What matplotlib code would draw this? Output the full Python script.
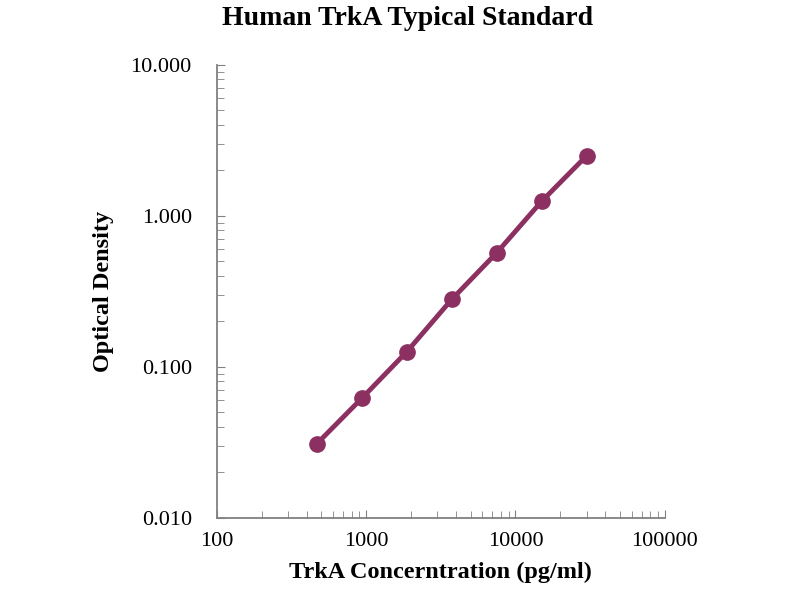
import numpy as np
import matplotlib
matplotlib.use("Agg")
import matplotlib.pyplot as plt
from matplotlib.ticker import FuncFormatter, LogLocator

# standard curve
conc = [468.75, 937.5, 1875, 3750, 7500, 15000, 30000]
od = [0.031, 0.062, 0.126, 0.28, 0.57, 1.25, 2.5]

COLOR = "#8C3062"
plt.rcParams["font.family"] = ["Liberation Serif", "DejaVu Serif"]

fig = plt.figure(figsize=(8, 6), dpi=100)
ax = fig.add_axes([0.271, 0.137, 0.56, 0.755])

ax.plot(conc, od, "-o", color=COLOR, lw=3.5, ms=11, zorder=3)

ax.set_xscale("log")
ax.set_yscale("log")
ax.set_xlim(100, 100000)
ax.set_ylim(0.01, 10)

ax.xaxis.set_major_locator(LogLocator(base=10))
ax.yaxis.set_major_locator(LogLocator(base=10))
ax.xaxis.set_major_formatter(FuncFormatter(lambda v, p: f"{v:.0f}"))
ax.yaxis.set_major_formatter(FuncFormatter(lambda v, p: f"{v:.3f}"))
ax.xaxis.set_minor_locator(LogLocator(base=10, subs=np.arange(2, 10)))
ax.yaxis.set_minor_locator(LogLocator(base=10, subs=np.arange(2, 10)))
ax.xaxis.set_minor_formatter(FuncFormatter(lambda v, p: ""))
ax.yaxis.set_minor_formatter(FuncFormatter(lambda v, p: ""))

ax.tick_params(which="both", direction="in", color="#808080", labelsize=16)
ax.tick_params(which="major", length=6)
ax.tick_params(which="minor", length=5)
ax.tick_params(axis="y", which="major", pad=18)
ax.tick_params(axis="x", which="major", pad=10)
for s in ("top", "right"):
    ax.spines[s].set_visible(False)
for s in ("left", "bottom"):
    ax.spines[s].set_color("#808080")
    ax.spines[s].set_linewidth(1.3)

ax.set_xlabel("TrkA Concerntration (pg/ml)", fontsize=17.5, fontweight="bold", labelpad=8)
ax.set_ylabel("Optical Density", fontsize=17.5, fontweight="bold", labelpad=12)
fig.suptitle("Human TrkA Typical Standard", fontsize=20, fontweight="bold", x=0.51, y=0.99)

fig.savefig("out.png", dpi=100)
